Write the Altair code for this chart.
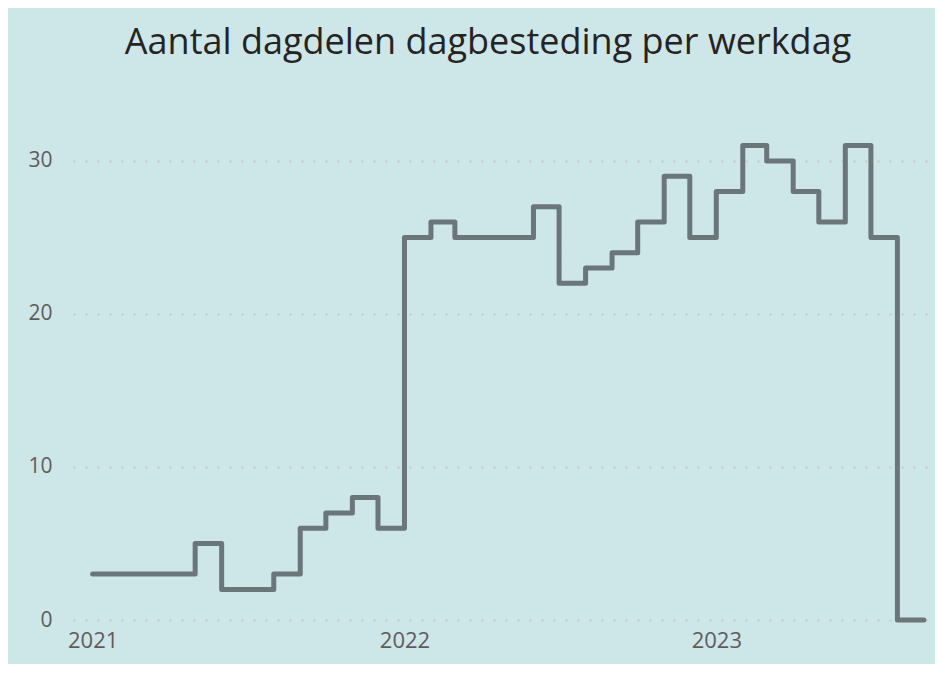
import altair as alt
import pandas as pd

months = [
    "2021-01-01", "2021-02-01", "2021-03-01", "2021-04-01", "2021-05-01", "2021-06-01",
    "2021-07-01", "2021-08-01", "2021-09-01", "2021-10-01", "2021-11-01", "2021-12-01",
    "2022-01-01", "2022-02-01", "2022-03-01", "2022-04-01", "2022-05-01", "2022-06-01",
    "2022-07-01", "2022-08-01", "2022-09-01", "2022-10-01", "2022-11-01", "2022-12-01",
    "2023-01-01", "2023-02-01", "2023-03-01", "2023-04-01", "2023-05-01", "2023-06-01",
    "2023-07-01", "2023-08-01", "2023-09-01",
]
values = [
    3, 3, 3, 3, 5, 2, 2, 3, 6, 7, 8, 6,
    25, 26, 25, 25, 25, 27, 22, 23, 24, 26, 29, 25,
    28, 31, 30, 28, 26, 31, 25, 0, 0,
]
year_ticks = [2021, 2022, 2023]
y_ticks = [0, 10, 20, 30]
title_text = "Aantal dagdelen dagbesteding per werkdag"

df = pd.DataFrame({"maand": months, "aantal": values})

FONT = "Segoe UI, Open Sans, Noto Sans, sans-serif"
LABEL = "#5f5c5a"

chart = (
    alt.Chart(df)
    .mark_line(
        interpolate="step-after",
        color="#6b767b",
        strokeWidth=5,
        strokeCap="round",
        strokeJoin="round",
    )
    .encode(
        x=alt.X(
            "maand:T",
            scale=alt.Scale(
                type="utc",
                domain=[
                    alt.DateTime(year=2020, month=12, date=9, utc=True),
                    alt.DateTime(year=2023, month=9, date=14, utc=True),
                ],
            ),
            axis=alt.Axis(
                values=[alt.DateTime(year=y, month=1, date=1, utc=True) for y in year_ticks],
                format="%Y",
                title=None,
                grid=False,
                domain=False,
                ticks=False,
                tickSize=0,
                labelPadding=10,
                labelFontSize=22,
                labelColor=LABEL,
                labelFont=FONT,
            ),
        ),
        y=alt.Y(
            "aantal:Q",
            scale=alt.Scale(domain=[0, 33], nice=False),
            axis=alt.Axis(
                values=y_ticks,
                title=None,
                grid=True,
                gridColor="#c8c8c8",
                gridDash=[2, 10],
                gridWidth=2,
                domain=False,
                ticks=False,
                tickSize=0,
                labelPadding=21,
                labelFontSize=21,
                labelColor=LABEL,
                labelFont=FONT,
            ),
        ),
    )
    .properties(
        width=862,
        height=505,
        title=alt.TitleParams(
            text=title_text,
            font=FONT,
            fontSize=36,
            fontWeight="normal",
            color="#252423",
            anchor="middle",
            offset=25,
            dx=-16,
            baseline="alphabetic",
        ),
        background="#cde6e8",
        padding={"left": 65, "top": 107, "right": 0, "bottom": 44},
        autosize=alt.AutoSizeParams(type="none"),
    )
    .configure_view(stroke=None)
)

chart.save("out.html", embed_options={"renderer": "svg", "actions": False})
